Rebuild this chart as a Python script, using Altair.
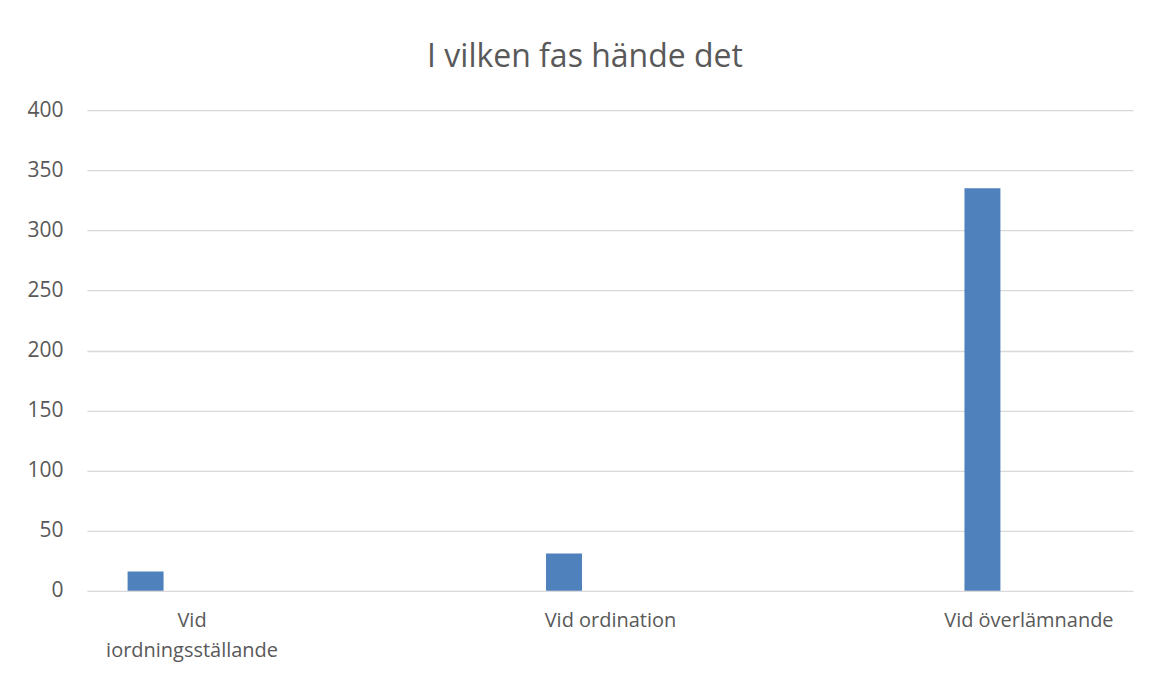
import altair as alt
import pandas as pd

categories = ["Vid iordningsställande", "Vid ordination", "Vid överlämnande"]
label_lines = [["Vid", "iordningsställande"], ["Vid ordination"], ["Vid överlämnande"]]
values = [16, 31, 335]
y_ticks = [0, 50, 100, 150, 200, 250, 300, 350, 400]

df = pd.DataFrame({"idx": list(range(len(categories))), "kategori": categories, "antal": values})

expr_parts = []
for i, lines in enumerate(label_lines):
    arr = "[" + ",".join("'" + l + "'" for l in lines) + "]"
    expr_parts.append(f"datum.value == {i} ? {arr} : ")
label_expr = "".join(expr_parts) + "''"

FONT = "Open Sans"
TXT = "#595959"

chart = alt.Chart(df).mark_bar(size=36, xOffset=-46, color="#4f81bd").encode(
    x=alt.X("idx:Q", scale=alt.Scale(domain=[-0.25, 2.25], nice=False, zero=False, padding=0),
            axis=alt.Axis(values=list(range(len(categories))), labelExpr=label_expr,
                          title=None, grid=False, ticks=False, domain=False,
                          labelFont=FONT, labelFontSize=20, labelColor=TXT,
                          labelPadding=20, labelLineHeight=30, labelBaseline="top")),
    y=alt.Y("antal:Q", scale=alt.Scale(domain=[0, 400], nice=False),
            axis=alt.Axis(values=y_ticks, title=None, ticks=False, domain=False,
                          gridColor="#d9d9d9", gridWidth=1.3,
                          labelFont=FONT, labelFontSize=21, labelColor=TXT,
                          labelPadding=24)),
    tooltip=["kategori", "antal"],
).properties(
    width=1047, height=481,
    title=alt.Title("I vilken fas hände det", font=FONT, fontSize=32, fontWeight="normal",
                    color=TXT, offset=25, anchor="middle", dx=-25),
    autosize=alt.AutoSizeParams(type="none"),
    padding={"left": 79, "top": 102, "right": 10, "bottom": 76},
).configure_view(stroke=None)

chart.save("out.html", embed_options={"renderer": "svg", "actions": False})
